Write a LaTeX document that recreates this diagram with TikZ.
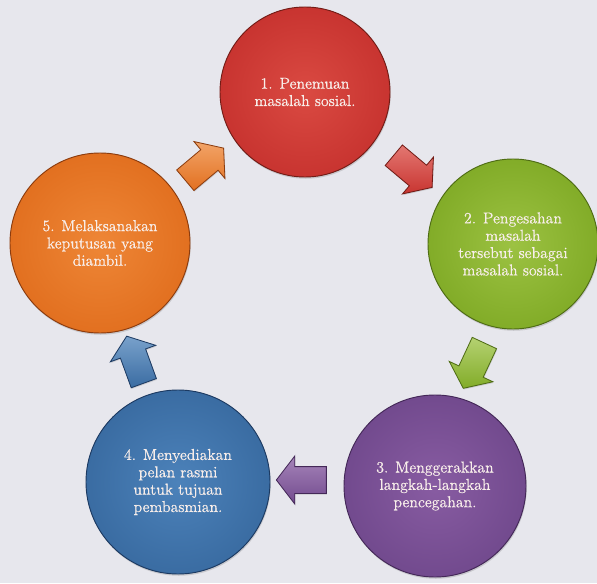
\documentclass[tikz,border=0pt]{standalone}
\usepackage{fontspec}
\setmainfont{Latin Modern Roman}[FakeBold=0.6]
\usetikzlibrary{shapes.arrows,shadows,calc}
\definecolor{bg}{RGB}{231,231,237}
\definecolor{txt}{RGB}{248,238,234}
\definecolor{redin}{RGB}{218,74,66}\definecolor{redout}{RGB}{200,52,48}\definecolor{redrim}{RGB}{115,28,22}
\definecolor{greenin}{RGB}{156,194,66}\definecolor{greenout}{RGB}{130,172,40}\definecolor{greenrim}{RGB}{78,108,20}
\definecolor{purplein}{RGB}{136,92,162}\definecolor{purpleout}{RGB}{114,74,142}\definecolor{purplerim}{RGB}{68,40,88}
\definecolor{bluein}{RGB}{76,130,186}\definecolor{blueout}{RGB}{58,108,162}\definecolor{bluerim}{RGB}{28,58,98}
\definecolor{orangein}{RGB}{238,134,54}\definecolor{orangeout}{RGB}{226,112,32}\definecolor{orangerim}{RGB}{140,60,14}
\tikzset{
  x=0.03cm, y=0.03cm,
  ball/.style={circle, draw=#1rim, line width=0.8pt, inner color=#1in, outer color=#1out,
    drop shadow={opacity=0.3, shadow xshift=0.6pt, shadow yshift=-1.5pt},
    text=txt, align=center, inner sep=0pt,
    font=\fontsize{13.5}{14.8}\selectfont},
  blockarrow/.style={single arrow, draw=#1rim, line width=0.7pt,
    top color=#1in!75!white, bottom color=#1out,
    minimum height=1.5cm, inner xsep=0pt, inner ysep=0.39cm,
    single arrow head extend=0.32cm, single arrow tip angle=105,
    drop shadow={opacity=0.3, shadow xshift=0.5pt, shadow yshift=-1pt}}
}
\begin{document}
\begin{tikzpicture}
\fill[bg] (0,0) rectangle (597,583);
\useasboundingbox (0,0) rectangle (597,583);
\node[ball=red, minimum size=5.1cm] (c1) at (305,491) {1. Penemuan\\masalah sosial.};
\node[ball=green, minimum size=5.1cm] (c2) at (513,339) {2. Pengesahan\\masalah\\tersebut sebagai\\masalah sosial.};
\node[ball=purple, minimum size=5.46cm] (c3) at (435,97) {3. Menggerakkan\\langkah-langkah\\pencegahan.};
\node[ball=blue, minimum size=5.52cm] (c4) at (178,101) {4. Menyediakan\\pelan rasmi\\untuk tujuan\\pembasmian.};
\node[ball=orange, minimum size=5.4cm] (c5) at (100,340) {5. Melaksanakan\\keputusan yang\\diambil.};
\node[blockarrow=red, rotate=-40] (a12) at ($(c1)!0.5!(c2)$) {};
\node[blockarrow=green, rotate=-115] (a23) at ($(c2)!0.5!(c3)+(2,4)$) {};
\node[blockarrow=purple, rotate=180] (a34) at ($(c3)!0.5!(c4)+(0,4)$) {};
\node[blockarrow=blue, rotate=110] (a45) at ($(c4)!0.5!(c5)+(-2,-2)$) {};
\node[blockarrow=orange, rotate=40] (a51) at ($(c5)!0.5!(c1)+(-2,0)$) {};
\end{tikzpicture}
\end{document}
